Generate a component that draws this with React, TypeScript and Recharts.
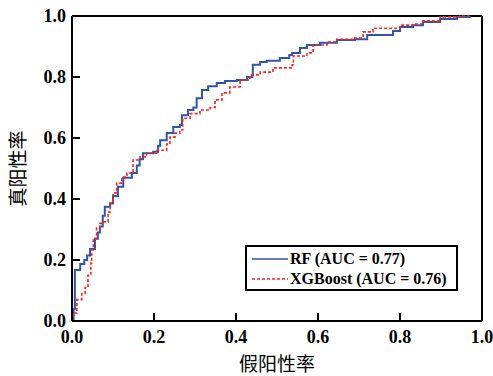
import React from "react";
import { LineChart, Line, XAxis, YAxis, ReferenceLine, Legend } from "recharts";

const rfFpr = [0, 0.004, 0.007, 0.02, 0.03, 0.037, 0.044, 0.056, 0.063, 0.068, 0.075, 0.08, 0.093, 0.1, 0.112, 0.125, 0.146, 0.158, 0.165, 0.173, 0.198, 0.21, 0.215, 0.231, 0.247, 0.263, 0.268, 0.283, 0.296, 0.304, 0.317, 0.332, 0.353, 0.373, 0.402, 0.427, 0.44, 0.441, 0.459, 0.475, 0.507, 0.53, 0.537, 0.556, 0.573, 0.605, 0.646, 0.69, 0.72, 0.783, 0.8, 0.832, 0.856, 0.898, 0.939, 0.97];
const rfTpr = [0, 0.04, 0.167, 0.187, 0.2, 0.215, 0.236, 0.27, 0.29, 0.31, 0.345, 0.375, 0.385, 0.41, 0.44, 0.47, 0.485, 0.51, 0.53, 0.55, 0.555, 0.575, 0.593, 0.616, 0.636, 0.643, 0.675, 0.692, 0.7, 0.73, 0.757, 0.77, 0.78, 0.787, 0.79, 0.8, 0.807, 0.84, 0.849, 0.853, 0.862, 0.872, 0.879, 0.895, 0.905, 0.912, 0.921, 0.924, 0.938, 0.951, 0.964, 0.97, 0.98, 0.99, 0.997, 1.0];

const xgbFpr = [0, 0.003, 0.012, 0.024, 0.032, 0.039, 0.046, 0.048, 0.052, 0.06, 0.068, 0.077, 0.088, 0.093, 0.1, 0.109, 0.122, 0.134, 0.149, 0.166, 0.182, 0.207, 0.231, 0.239, 0.251, 0.263, 0.27, 0.288, 0.312, 0.337, 0.349, 0.366, 0.385, 0.41, 0.434, 0.459, 0.49, 0.537, 0.54, 0.573, 0.588, 0.622, 0.646, 0.685, 0.71, 0.734, 0.8, 0.832, 0.856, 0.898, 0.946, 0.97];
const xgbTpr = [0, 0.026, 0.07, 0.09, 0.11, 0.15, 0.19, 0.233, 0.27, 0.305, 0.32, 0.325, 0.357, 0.387, 0.42, 0.452, 0.472, 0.485, 0.528, 0.538, 0.55, 0.56, 0.58, 0.603, 0.616, 0.626, 0.665, 0.68, 0.692, 0.7, 0.725, 0.748, 0.767, 0.79, 0.807, 0.816, 0.83, 0.84, 0.869, 0.879, 0.905, 0.915, 0.924, 0.928, 0.948, 0.96, 0.97, 0.974, 0.984, 0.997, 1.0, 1.0];

const axisTicks = [0, 0.2, 0.4, 0.6, 0.8, 1.0];
const seriesNames = ["RF (AUC = 0.77)", "XGBoost (AUC = 0.76)"];
const xLabel = "假阳性率";
const yLabel = "真阳性率";

const rfData = rfFpr.map((x, i) => ({ x, y: rfTpr[i] }));
const xgbData = xgbFpr.map((x, i) => ({ x, y: xgbTpr[i] }));

const BLUE = "#2f55a6";
const RED = "#ff2020";
const tickFont = { fontFamily: "'Liberation Serif', 'Times New Roman', serif", fontWeight: 700, fontSize: 18, fill: "#000" };

const XTick = (props: any) => {
  const { x, y, payload } = props;
  return (
    <g>
      <line x1={x} y1={y} x2={x} y2={y - 8} stroke="#000" strokeWidth={2} />
      <text x={x} y={y + 22} textAnchor="middle" style={tickFont}>
        {Number(payload.value).toFixed(1)}
      </text>
    </g>
  );
};

const YTick = (props: any) => {
  const { x, y, payload } = props;
  return (
    <g>
      <line x1={x} y1={y} x2={x + 8} y2={y} stroke="#000" strokeWidth={2} />
      <text x={x - 6} y={y + 6} textAnchor="end" style={tickFont}>
        {Number(payload.value).toFixed(1)}
      </text>
    </g>
  );
};

const LegendBox = () => {
  const rows = [
    { name: seriesNames[0], color: BLUE, dash: undefined as string | undefined },
    { name: seriesNames[1], color: RED, dash: "3 2" },
  ];
  return (
    <div
      style={{
        width: 213,
        height: 46,
        boxSizing: "border-box",
        border: "2px solid #000",
        background: "#fff",
        paddingTop: 2,
        paddingLeft: 5,
      }}
    >
      {rows.map((r) => (
        <div key={r.name} style={{ display: "flex", alignItems: "center", height: 20 }}>
          <svg width={36} height={6} style={{ display: "block" }}>
            <line x1={0} y1={3} x2={36} y2={3} stroke={r.color} strokeWidth={1.5} strokeDasharray={r.dash} />
          </svg>
          <span
            style={{
              marginLeft: 2,
              fontFamily: "'Liberation Serif', 'Times New Roman', serif",
              fontWeight: 700,
              fontSize: 16,
              color: "#000",
              whiteSpace: "nowrap",
            }}
          >
            {r.name}
          </span>
        </div>
      ))}
    </div>
  );
};

export default function App() {
  return (
    <div style={{ position: "absolute", left: 0, top: 0 }}>
      <LineChart width={493} height={376} margin={{ top: 16, right: 11, bottom: 0, left: 0 }}>
        <XAxis
          type="number"
          dataKey="x"
          domain={[0, 1]}
          ticks={axisTicks}
          tickSize={0}
          tickMargin={0}
          tickLine={false}
          tick={<XTick />}
          height={55}
          axisLine={{ stroke: "#000", strokeWidth: 2 }}
          allowDuplicatedCategory={false}
          label={{
            value: xLabel,
            position: "insideBottom",
            offset: 5,
            style: { fontFamily: "'Noto Sans CJK SC', sans-serif", fontSize: 19, fill: "#000", fontWeight: 400 },
          }}
        />
        <YAxis
          type="number"
          dataKey="y"
          domain={[0, 1]}
          ticks={axisTicks}
          tickSize={0}
          tickMargin={0}
          tickLine={false}
          tick={<YTick />}
          width={72}
          axisLine={{ stroke: "#000", strokeWidth: 2 }}
          label={{
            value: yLabel,
            angle: -90,
            position: "insideLeft",
            offset: 18,
            style: { textAnchor: "middle", fontFamily: "'Noto Sans CJK SC', sans-serif", fontSize: 19, fill: "#000", fontWeight: 400 },
          }}
        />
        <ReferenceLine y={1} stroke="#000" strokeWidth={2} />
        <ReferenceLine x={1} stroke="#000" strokeWidth={2} />
        <Line
          data={rfData}
          dataKey="y"
          type="stepAfter"
          stroke={BLUE}
          strokeWidth={2}
          dot={false}
          isAnimationActive={false}
          name={seriesNames[0]}
        />
        <Line
          data={xgbData}
          dataKey="y"
          type="stepAfter"
          stroke={RED}
          strokeWidth={1.6}
          strokeDasharray="3 2"
          dot={false}
          isAnimationActive={false}
          name={seriesNames[1]}
        />
        <Legend
          layout="vertical"
          align="center"
          verticalAlign="middle"
          content={<LegendBox />}
          wrapperStyle={{ position: "absolute", left: 245, top: 245, width: 213, height: 46 }}
        />
      </LineChart>
    </div>
  );
}
